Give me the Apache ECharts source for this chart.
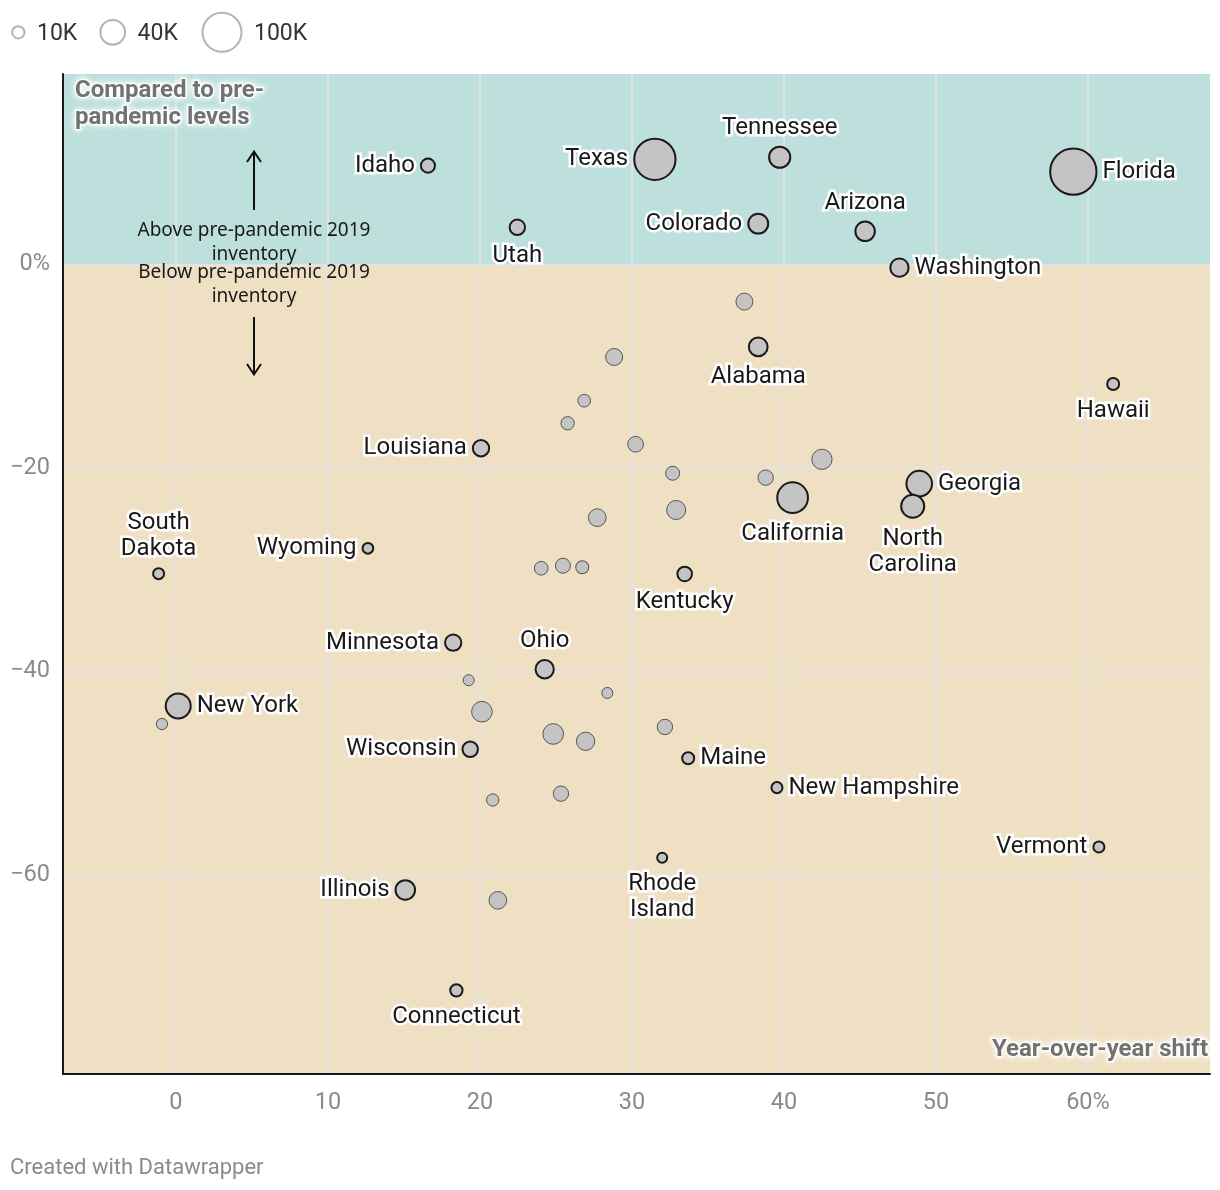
<!DOCTYPE html>
<html>
<head>
<meta charset="utf-8">
<script src="https://cdn.jsdelivr.net/npm/echarts@6/dist/echarts.min.js"></script>
<style>
  html, body { margin: 0; padding: 0; background: #fff; }
  #chart { width: 1220px; height: 1190px; }
</style>
</head>
<body>
<div id="chart"></div>
<script>
// ---- data ----
const states = [
  'Idaho','Texas','Tennessee','Florida','Colorado','Utah','Arizona','Washington','Alabama','Hawaii',
  'Louisiana','Georgia','North Carolina','California','South Dakota','Wyoming','Kentucky','Minnesota','Ohio','New York',
  'Wisconsin','Maine','New Hampshire','Vermont','Illinois','Rhode Island','Connecticut',
  '','','','','','','','','','','','','','','','','','','','','','',''
];
// year-over-year shift (%)
const yoyShift = [
  16.58, 31.51, 39.72, 59.04, 38.31, 22.46, 45.34, 47.60, 38.31, 61.66,
  20.07, 48.90, 48.47, 40.57, -1.14, 12.63, 33.47, 18.24, 24.26, 0.15,
  19.36, 33.70, 39.54, 60.72, 15.09, 31.99, 18.45,
  37.40, 28.83, 26.86, 25.77, 30.24, 42.50, 32.68, 38.80, 32.91, 27.72,
  24.03, 25.46, 26.73, 19.26, 28.38, 20.13, 24.82, 26.95, 32.17, 20.84,
  25.33, 21.18, -0.92
];
// compared to pre-pandemic levels (%)
const vsPrePandemic = [
  9.69, 10.31, 10.51, 9.10, 3.99, 3.63, 3.24, -0.33, -8.12, -11.76,
  -18.07, -21.55, -23.77, -22.93, -30.39, -27.90, -30.42, -37.17, -39.78, -43.39,
  -47.64, -48.53, -51.41, -57.24, -61.46, -58.29, -71.32,
  -3.67, -9.11, -13.40, -15.62, -17.68, -19.16, -20.53, -20.96, -24.14, -24.89,
  -29.86, -29.61, -29.76, -40.86, -42.11, -43.95, -46.14, -46.86, -45.45, -52.62,
  -52.00, -62.48, -45.16
];
// active inventory (thousands)
const inventoryK = [
  13, 112, 29.5, 141, 26, 15.6, 25, 22, 23, 9.5,
  17.5, 43, 35, 62, 8, 7.5, 14, 17.5, 22, 41,
  15.6, 9.5, 8, 8, 25, 6.6, 10,
  18.8, 19, 10.6, 11.7, 16.2, 27, 12.9, 15.5, 23.7, 20.6,
  12.3, 14.8, 11.1, 8, 8, 28, 28, 22, 15.5, 10,
  15.5, 20.4, 8.4
];
const labelPos = [
  'left','left','top','right','left','bottom','top','right','bottom','bottom',
  'left','right','bottom','bottom','top','left','bottom','left','top','right',
  'left','right','right','left','left','bottom','bottom'
];
const xTickValues = [0, 10, 20, 30, 40, 50, 60];
const yTickValues = [0, -20, -40, -60];
const legendSizes = [10, 40, 100];
const legendLabels = ['10K', '40K', '100K'];
const wrapped = { 'North Carolina': 'North\nCarolina', 'South Dakota': 'South\nDakota', 'Rhode Island': 'Rhode\nIsland' };

// ---- layout ----
const X_MIN = -7.43, X_MAX = 68.03, Y_MIN = -79.54, Y_MAX = 18.69;
const sizeOf = k => 3.9 * Math.sqrt(k);
const TEAL = '#bde0dd', BEIGE = '#f0e0c3';
const zeroFrac = (Y_MAX - 0) / (Y_MAX - Y_MIN);
const labelDistance = { left: 5, right: 5, top: 5, bottom: 7 };

const labeledData = [], plainData = [];
states.forEach((s, i) => {
  const item = { name: s, value: [yoyShift[i], vsPrePandemic[i], inventoryK[i]] };
  if (s) {
    item.label = { show: true, position: labelPos[i], distance: labelDistance[labelPos[i]], offset: [0, 2] };
    labeledData.push(item);
  } else {
    plainData.push(item);
  }
});

const chart = echarts.init(document.getElementById('chart'), null, { renderer: 'canvas' });

const legendGraphics = [];
const legendCx = [18.3, 112.7, 222];
legendSizes.forEach((k, i) => {
  const r = sizeOf(k) / 2;
  legendGraphics.push({
    type: 'circle', z: 100, shape: { cx: legendCx[i], cy: 32.3, r: r },
    style: { fill: 'none', stroke: '#b3b3b3', lineWidth: 2 }
  });
  legendGraphics.push({
    type: 'text', z: 100, x: legendCx[i] + r + 12.5, y: 34,
    style: { text: legendLabels[i], font: '23px Roboto', fill: '#333',
             textAlign: 'left', textVerticalAlign: 'middle', align: 'left', verticalAlign: 'middle' }
  });
});

const annoFont = '19px "Noto Sans"';
const annotations = [
  { type: 'text', z: 100, x: 254, y: 219,
    style: { text: 'Above pre-pandemic 2019\ninventory', font: annoFont, fill: '#1a1a1a', lineHeight: 24,
             textAlign: 'center', textVerticalAlign: 'top', align: 'center', verticalAlign: 'top' } },
  { type: 'text', z: 100, x: 254, y: 261,
    style: { text: 'Below pre-pandemic 2019\ninventory', font: annoFont, fill: '#1a1a1a', lineHeight: 24,
             textAlign: 'center', textVerticalAlign: 'top', align: 'center', verticalAlign: 'top' } },
  { type: 'line', z: 100, shape: { x1: 254, y1: 210, x2: 254, y2: 152 }, style: { stroke: '#111', lineWidth: 2 } },
  { type: 'polyline', z: 100, shape: { points: [[247, 162], [254, 151.5], [261, 162]] }, style: { stroke: '#111', lineWidth: 2, fill: 'none' } },
  { type: 'line', z: 100, shape: { x1: 254, y1: 317, x2: 254, y2: 374 }, style: { stroke: '#111', lineWidth: 2 } },
  { type: 'polyline', z: 100, shape: { points: [[247, 364], [254, 374.5], [261, 364]] }, style: { stroke: '#111', lineWidth: 2, fill: 'none' } },
  { type: 'text', z: 100, x: 10, y: 1168,
    style: { text: 'Created with Datawrapper', font: '22px Roboto', fill: '#8a8a8a',
             textAlign: 'left', textVerticalAlign: 'middle', align: 'left', verticalAlign: 'middle' } }
];

const haloText = { fontFamily: 'Roboto', fontSize: 24, fontWeight: 'bold', color: '#727272',
  lineHeight: 27, textBorderColor: 'rgba(255,255,255,0.85)', textBorderWidth: 3,
  textShadowColor: '#fff', textShadowBlur: 6 };

chart.setOption({
  animation: false,
  title: [
    { text: 'Compared to pre-\npandemic levels', left: 75, top: 77, padding: 0, textStyle: haloText },
    { text: 'Year-over-year shift', right: 9, top: 1036, padding: 0, textStyle: haloText }
  ],
  grid: {
    left: 63, right: 10, top: 74, bottom: 116, show: true, borderWidth: 0,
    backgroundColor: new echarts.graphic.LinearGradient(0, 0, 0, 1, [
      { offset: 0, color: TEAL }, { offset: zeroFrac, color: TEAL },
      { offset: zeroFrac, color: BEIGE }, { offset: 1, color: BEIGE }
    ])
  },
  xAxis: {
    type: 'value', min: X_MIN, max: X_MAX, splitNumber: 8,
    axisLine: { show: true, onZero: false, lineStyle: { color: '#1a1a1a', width: 2 } },
    axisTick: { show: false },
    axisLabel: {
      margin: 17, color: '#8a8a8a', fontSize: 23.5, fontFamily: 'Roboto',
      showMinLabel: false, showMaxLabel: false,
      formatter: v => xTickValues.includes(v) ? (v === 60 ? '60%' : String(v)) : ''
    },
    splitLine: { show: true, showMinLine: false, showMaxLine: false, lineStyle: { color: '#e3e3e3', width: 2 } }
  },
  yAxis: {
    type: 'value', min: Y_MIN, max: Y_MAX, splitNumber: 5,
    axisLine: { show: true, onZero: false, lineStyle: { color: '#1a1a1a', width: 2 } },
    axisTick: { show: false },
    axisLabel: {
      margin: 13, color: '#8a8a8a', fontSize: 23.5, fontFamily: 'Roboto', padding: [5, 0, 0, 0],
      showMinLabel: false, showMaxLabel: false,
      formatter: v => yTickValues.includes(v) ? (v === 0 ? '0%' : '\u2212' + Math.abs(v)) : ''
    },
    splitLine: { show: true, showMinLine: false, showMaxLine: false, lineStyle: { color: '#e3e3e3', width: 2 } }
  },
  graphic: { elements: legendGraphics.concat(annotations) },
  series: [
    {
      type: 'scatter', name: 'other', data: plainData, z: 3,
      symbolSize: v => sizeOf(v[2]),
      itemStyle: { color: '#c4c4c4', borderColor: '#555', borderWidth: 1, opacity: 1 },
      label: { show: false }
    },
    {
      type: 'scatter', name: 'labeled', data: labeledData, z: 4,
      symbolSize: v => sizeOf(v[2]),
      itemStyle: { color: '#c4c4c4', borderColor: '#1a1a1a', borderWidth: 2, opacity: 1 },
      label: {
        show: true, color: '#1a1a1a', fontFamily: 'Roboto', fontSize: 24, lineHeight: 26,
        textBorderColor: '#fff', textBorderWidth: 5,
        formatter: p => wrapped[p.name] || p.name
      },
      labelLayout: { hideOverlap: false }
    }
  ]
});
</script>
</body>
</html>
